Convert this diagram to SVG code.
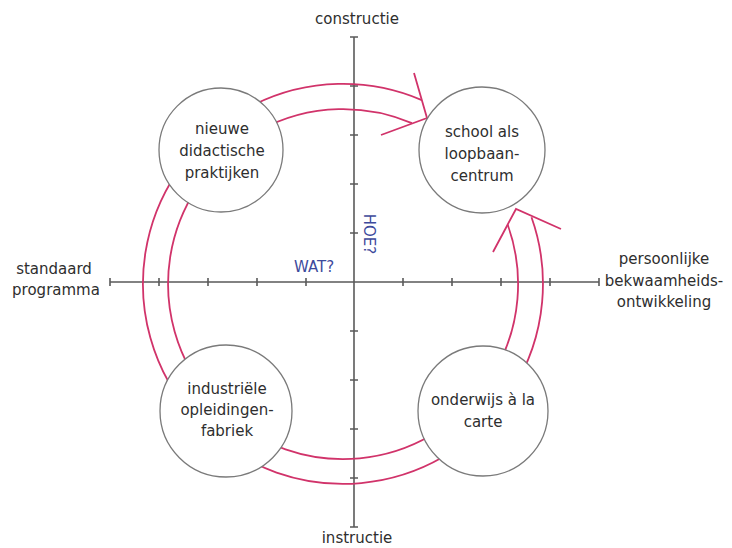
<svg xmlns="http://www.w3.org/2000/svg" width="732" height="548" viewBox="0 0 732 548">
<style>
.ax{stroke:#5a5a5a;stroke-width:1.6;fill:none}
.ring{stroke:#d1336a;stroke-width:1.8;fill:none}
.node{fill:#fff;stroke:#7a7a7a;stroke-width:1.3}
text{font-family:"DejaVu Sans",Verdana,sans-serif;font-size:15px;fill:#2e2e2e;text-anchor:middle}
.q{fill:#3d4a9c}
</style>
<rect width="732" height="548" fill="#fff"/>
<g id="axes">
<path class="ax" d="M110 282H599M354 37V527"/>
<path class="ax" d="M110 278v8M159 278v8M208 278v8M257 278v8M306 278v8M403 278v8M452 278v8M501 278v8M550 278v8M599 278v8"/>
<path class="ax" d="M350 37h8M350 86h8M350 135h8M350 184h8M350 233h8M350 331h8M350 380h8M350 429h8M350 478h8M350 527h8"/>
</g>
<g id="connectors">
<path class="ring" d="M421.8 100.1A200 200 0 1 0 531.5 217.2"/>
<path class="ring" d="M411.9 123.2A175 175 0 1 0 507.8 225"/>
<path class="ring" d="M414 73L427 118L381 135"/>
<path class="ring" d="M493 252L516 209L561 229"/>
</g>
<g id="node-nieuwe">
<circle class="node" cx="221" cy="150" r="62"/>
<text x="222" y="134">nieuwe</text>
<text x="222" y="156">didactische</text>
<text x="222" y="178">praktijken</text>
</g>
<g id="node-school">
<circle class="node" cx="482" cy="150" r="63"/>
<text x="482" y="137">school als</text>
<text x="482" y="159">loopbaan-</text>
<text x="482" y="181">centrum</text>
</g>
<g id="node-industriele">
<circle class="node" cx="226" cy="411" r="66"/>
<text x="227" y="394">industriële</text>
<text x="227" y="415">opleidingen-</text>
<text x="227" y="436">fabriek</text>
</g>
<g id="node-onderwijs">
<circle class="node" cx="483" cy="411" r="65"/>
<text x="483" y="405">onderwijs à la</text>
<text x="483" y="427">carte</text>
</g>
<g id="labels">
<text x="54" y="274">standaard</text>
<text x="56" y="295">programma</text>
<text x="357" y="24">constructie</text>
<text x="357" y="543">instructie</text>
<text x="664" y="264">persoonlijke</text>
<text x="664" y="286">bekwaamheids-</text>
<text x="664" y="307">ontwikkeling</text>
<text class="q" x="314" y="272">WAT?</text>
<text class="q" transform="translate(364 234) rotate(90)">HOE?</text>
</g>
</svg>
